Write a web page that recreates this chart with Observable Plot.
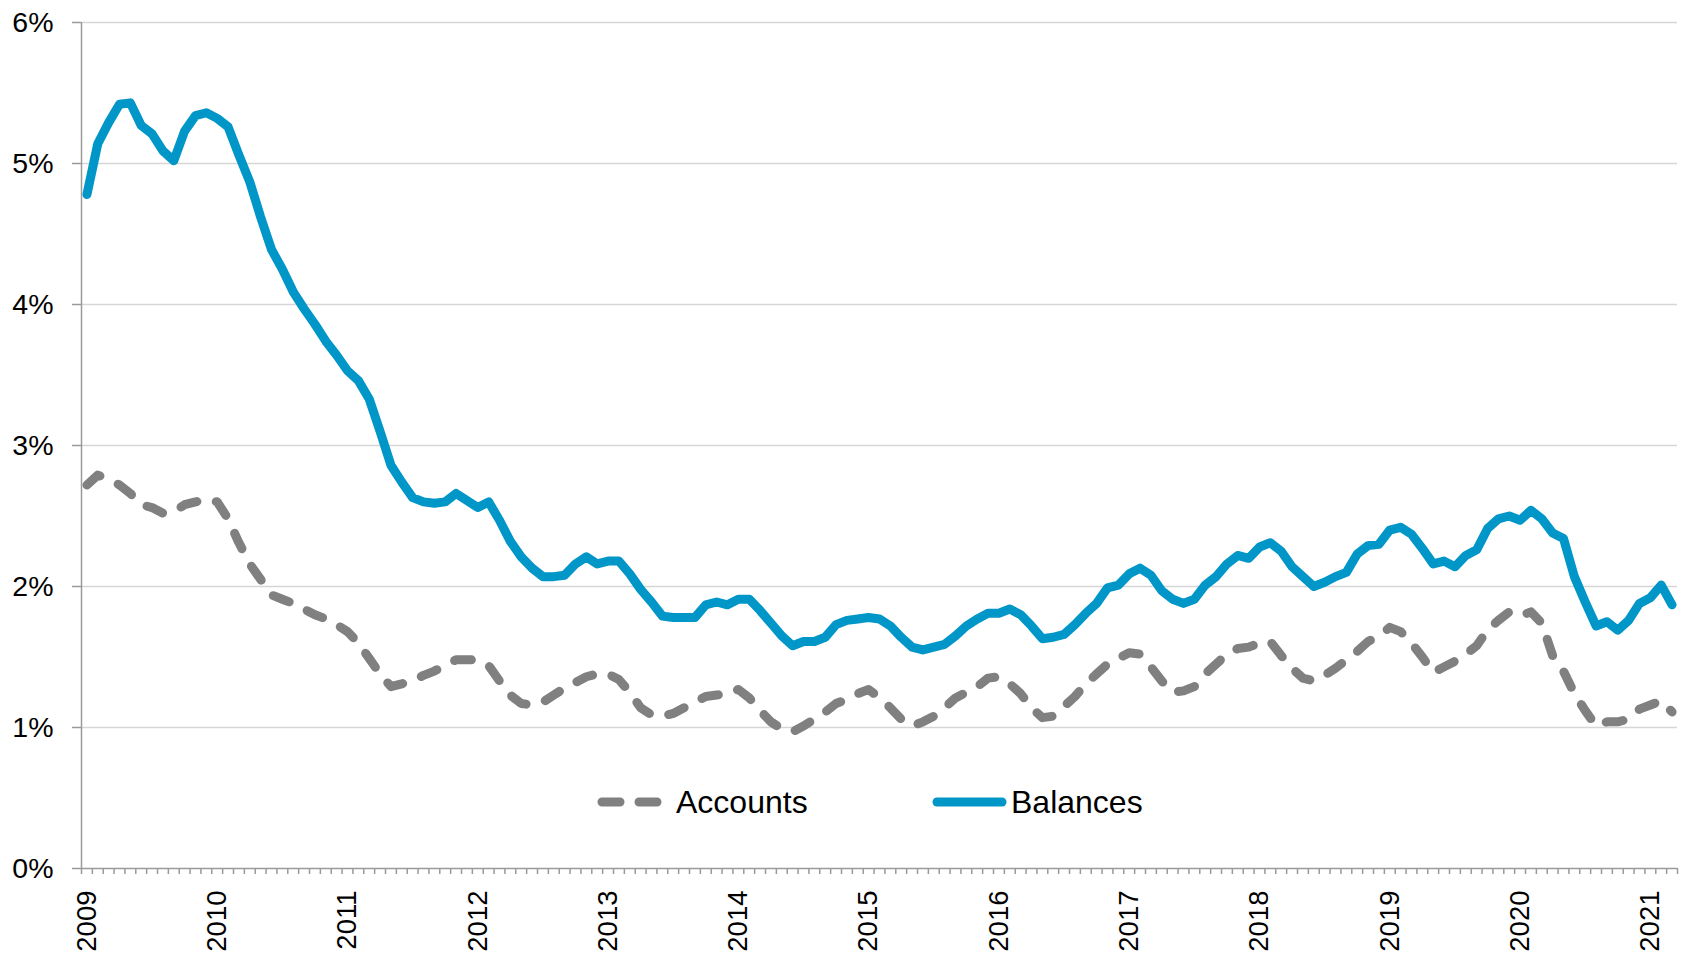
<!DOCTYPE html>
<html><head><meta charset="utf-8">
<script src="https://cdn.jsdelivr.net/npm/d3@7"></script>
<script src="https://cdn.jsdelivr.net/npm/@observablehq/plot@0.6"></script>
<style>
html,body{margin:0;padding:0;background:#fff;}
#chart{width:1682px;height:954px;}
</style></head><body><div id="chart"></div>
<script>
const yearLabels = ["2009","2010","2011","2012","2013","2014","2015","2016","2017","2018","2019","2020","2021"];
const yTicks = [0, 1, 2, 3, 4, 5, 6];
const seriesNames = ["Accounts", "Balances"];
// monthly values, Jan 2009 .. Mar 2021 (%)
const accounts = [
  2.72, 2.79, 2.76, 2.72, 2.66, 2.58, 2.56, 2.52, 2.53, 2.58, 2.60, 2.62,
  2.60, 2.48, 2.31, 2.16, 2.05, 1.94, 1.91, 1.88, 1.84, 1.80, 1.77, 1.73,
  1.68, 1.60, 1.49, 1.38, 1.29, 1.31, 1.33, 1.37, 1.40, 1.44, 1.48, 1.48,
  1.48, 1.44, 1.33, 1.23, 1.17, 1.16, 1.18, 1.23, 1.28, 1.32, 1.36, 1.38,
  1.38, 1.34, 1.25, 1.14, 1.09, 1.08, 1.10, 1.14, 1.18, 1.22, 1.23, 1.24,
  1.27, 1.21, 1.12, 1.04, 0.99, 0.97, 1.01, 1.06, 1.11, 1.17, 1.20, 1.24,
  1.27, 1.21, 1.14, 1.06, 1.01, 1.04, 1.08, 1.14, 1.21, 1.25, 1.29, 1.35,
  1.36, 1.31, 1.24, 1.14, 1.07, 1.08, 1.15, 1.22, 1.31, 1.38, 1.45, 1.49,
  1.53, 1.52, 1.43, 1.33, 1.25, 1.26, 1.29, 1.38, 1.45, 1.52, 1.56, 1.57,
  1.60, 1.61, 1.51, 1.42, 1.35, 1.33, 1.37, 1.42, 1.48, 1.54, 1.61, 1.65,
  1.71, 1.68, 1.60, 1.50, 1.39, 1.43, 1.47, 1.52, 1.58, 1.69, 1.76, 1.82,
  1.79, 1.82, 1.74, 1.51, 1.40, 1.24, 1.12, 1.01, 1.04, 1.04, 1.06, 1.13,
  1.16, 1.19, 1.11
];
const balances = [
  4.78, 5.14, 5.29, 5.42, 5.43, 5.27, 5.21, 5.09, 5.02, 5.23, 5.34, 5.36,
  5.32, 5.26, 5.06, 4.87, 4.62, 4.39, 4.25, 4.09, 3.97, 3.86, 3.74, 3.64,
  3.53, 3.46, 3.33, 3.10, 2.86, 2.74, 2.63, 2.60, 2.59, 2.60, 2.66, 2.61,
  2.56, 2.60, 2.47, 2.32, 2.21, 2.13, 2.07, 2.07, 2.08, 2.16, 2.21, 2.16,
  2.18, 2.18, 2.09, 1.98, 1.89, 1.79, 1.78, 1.78, 1.78, 1.87, 1.89, 1.87,
  1.91, 1.91, 1.83, 1.74, 1.65, 1.58, 1.61, 1.61, 1.64, 1.73, 1.76, 1.77,
  1.78, 1.77, 1.72, 1.64, 1.57, 1.55, 1.57, 1.59, 1.65, 1.72, 1.77, 1.81,
  1.81, 1.84, 1.80, 1.72, 1.63, 1.64, 1.66, 1.73, 1.81, 1.88, 1.99, 2.01,
  2.09, 2.13, 2.08, 1.97, 1.91, 1.88, 1.91, 2.01, 2.07, 2.16, 2.22, 2.20,
  2.28, 2.31, 2.25, 2.14, 2.07, 2.00, 2.03, 2.07, 2.10, 2.23, 2.29, 2.30,
  2.40, 2.42, 2.37, 2.27, 2.16, 2.18, 2.14, 2.22, 2.26, 2.41, 2.48, 2.50,
  2.47, 2.54, 2.48, 2.38, 2.34, 2.07, 1.89, 1.72, 1.75, 1.69, 1.76, 1.88,
  1.92, 2.01, 1.87
];

const n = accounts.length;
const rows = accounts.map((v, i) => ({i, accounts: v, balances: balances[i]}));
const monthBounds = d3.range(n + 1).map(k => k - 0.5);
const yearTicks = yearLabels.map((_, k) => k * 12);
const FONT = "'Liberation Sans', Arial, Helvetica, sans-serif";
const GRAY = "#808080", BLUE = "#0096c8", AXIS = "#9a9a9a";

const plot = Plot.plot({
  width: 1682, height: 954,
  marginLeft: 81, marginRight: 5, marginTop: 22, marginBottom: 86,
  style: {fontFamily: FONT, background: "#fff", overflow: "visible", color: "#000"},
  x: {type: "linear", domain: [-0.5, n - 0.5], axis: null, label: null},
  y: {domain: [0, 6], axis: null, label: null},
  marks: [
    Plot.ruleY(yTicks.filter(d => d > 0), {stroke: "#d6d6d6", strokeWidth: 1.5}),
    Plot.ruleY([0], {stroke: AXIS, strokeWidth: 1.5}),
    Plot.ruleX([-0.5], {stroke: AXIS, strokeWidth: 1.5}),
    Plot.axisY({ticks: yTicks, tickSize: 9, tickPadding: 19, stroke: AXIS, strokeWidth: 1.5, fill: "#000",
      fontSize: 28.5, tickFormat: d => d + "%", label: null}),
    Plot.axisX({ticks: monthBounds, tickSize: 6, stroke: AXIS, strokeWidth: 1.5, fill: "none", label: null}),
    Plot.axisX({ticks: yearTicks, tickSize: 0, tickPadding: 22, tickRotate: -90, fill: "#000",
      fontSize: 27.5, tickFormat: i => yearLabels[Math.round(i / 12)], label: null}),
    Plot.line(rows, {x: "i", y: "accounts", stroke: GRAY, strokeWidth: 9, strokeDasharray: "17,20",
      strokeLinecap: "round", strokeLinejoin: "round"}),
    Plot.line(rows, {x: "i", y: "balances", stroke: BLUE, strokeWidth: 9,
      strokeLinecap: "round", strokeLinejoin: "round"})
  ]
});

// legend inside the plot area
const svg = d3.select(plot);
const lg = svg.append("g").attr("font-family", FONT).attr("font-size", 32)
  .attr("fill", "#000").attr("text-anchor", "start");
lg.append("line").attr("x1", 602).attr("x2", 657).attr("y1", 802).attr("y2", 802)
  .attr("stroke", GRAY).attr("stroke-width", 9).attr("stroke-dasharray", "18,19").attr("stroke-linecap", "round");
lg.append("text").attr("x", 676).attr("y", 813).attr("text-anchor", "start").text(seriesNames[0]);
lg.append("line").attr("x1", 937).attr("x2", 1002).attr("y1", 802).attr("y2", 802)
  .attr("stroke", BLUE).attr("stroke-width", 9).attr("stroke-linecap", "round");
lg.append("text").attr("x", 1011).attr("y", 813).attr("text-anchor", "start").text(seriesNames[1]);

document.getElementById("chart").appendChild(plot);
</script></body></html>
